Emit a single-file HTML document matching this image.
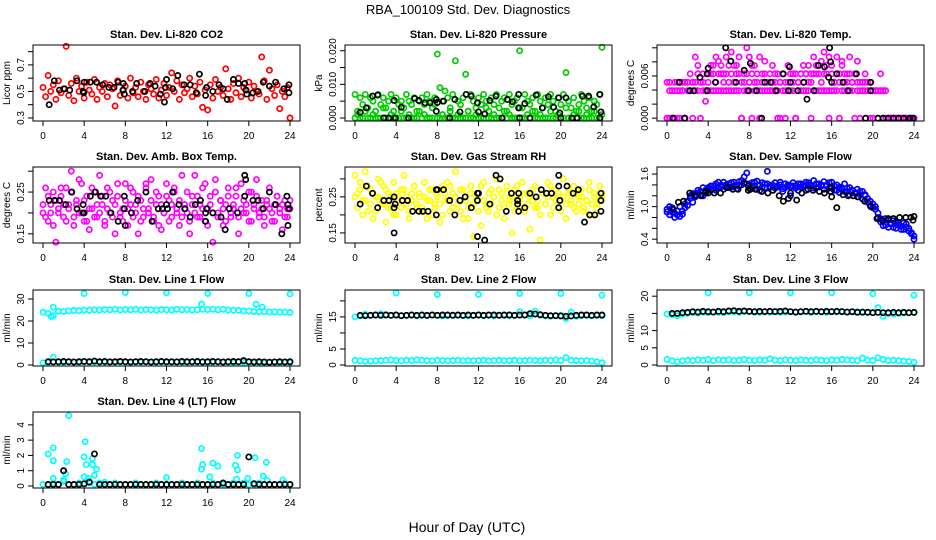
<!DOCTYPE html>
<html><head><meta charset="utf-8">
<style>
html,body{margin:0;padding:0;background:#fff;}
svg{display:block;font-family:"Liberation Sans",Arial,sans-serif;}
</style></head>
<body>
<svg id="chart" width="936" height="540" viewBox="0 0 936 540" xmlns="http://www.w3.org/2000/svg">
<text x="468" y="14" text-anchor="middle" font-size="13">RBA_100109  Std. Dev. Diagnostics</text>
<text x="467" y="532" text-anchor="middle" font-size="14">Hour of Day (UTC)</text>
</svg>
<script>
// ---------- data (hour-of-day series; evenly spaced samples) ----------
const hourTicks = [0,4,8,12,16,20,24];
const co2Red = [0.53,0.46,0.62,0.50,0.55,0.44,0.58,0.49,0.52,0.84,0.47,0.56,0.43,0.60,0.50,0.54,0.45,0.57,0.51,0.48,0.59,0.44,0.53,0.50,0.56,0.46,0.55,0.52,0.39,0.58,0.47,0.51,0.54,0.45,0.60,0.49,0.53,0.46,0.57,0.50,0.44,0.55,0.52,0.48,0.59,0.45,0.51,0.56,0.47,0.53,0.64,0.50,0.58,0.44,0.55,0.49,0.52,0.60,0.46,0.54,0.48,0.57,0.38,0.51,0.36,0.55,0.45,0.59,0.50,0.53,0.47,0.67,0.52,0.44,0.56,0.49,0.60,0.46,0.53,0.51,0.57,0.45,0.54,0.50,0.48,0.76,0.58,0.44,0.66,0.52,0.47,0.55,0.37,0.50,0.46,0.53,0.30];
const co2BlackX = [0.6,1.1,1.6,2.1,2.6,3.3,3.9,3.95,4.0,4.6,5.2,5.8,6.4,6.9,7.3,7.8,7.8,7.9,8.7,9.1,9.9,10.4,10.9,11.4,11.8,11.9,12.0,12.6,13.1,13.7,14.3,14.9,15.2,15.8,15.9,16.5,17.1,17.5,17.9,18.5,19.0,19.6,19.7,19.8,20.4,20.9,21.4,22.0,22.6,23.4,23.9,23.9];
const co2BlackY = [0.40,0.58,0.51,0.52,0.51,0.58,0.50,0.49,0.57,0.57,0.57,0.55,0.53,0.53,0.57,0.56,0.51,0.48,0.50,0.56,0.50,0.56,0.54,0.48,0.42,0.53,0.59,0.52,0.62,0.55,0.55,0.49,0.63,0.47,0.53,0.50,0.55,0.52,0.44,0.59,0.56,0.56,0.51,0.48,0.49,0.50,0.57,0.54,0.57,0.52,0.55,0.49];

const pressGreenA = [0.007,0.002,0.006,0.004,0.007,0.003,0.006,0.005,0.002,0.007,0.004,0.006,0.003,0.005,0.007,0.002,0.006,0.004,0.005,0.003,0.007,0.005,0.004,0.006,0.002,0.005,0.006,0.004,0.007,0.005,0.003,0.006,0.019,0.009,0.005,0.008,0.006,0.003,0.007,0.017,0.005,0.004,0.006,0.013,0.002,0.007,0.005,0.003,0.006,0.004,0.007,0.005,0.002,0.006,0.004,0.007,0.003,0.005,0.006,0.002,0.007,0.004,0.005,0.006,0.020,0.003,0.007,0.005,0.004,0.006,0.002,0.007,0.005,0.003,0.006,0.004,0.007,0.005,0.002,0.006,0.004,0.007,0.0135,0.005,0.003,0.006,0.002,0.004,0.007,0.005,0.003,0.006,0.002,0.005,0.004,0.007,0.021];
const pressGreenB = [0,0.001,0,0,0.002,0,0,0.001,0,0,0,0.003,0,0,0.001,0,0,0,0.002,0,0,0.001,0,0,0,0.002,0,0.001,0,0,0,0.004,0,0,0.001,0,0,0.002,0,0,0.001,0,0,0,0.002,0,0,0.001,0,0,0,0.003,0,0,0.001,0,0,0,0.002,0,0.001,0,0,0,0.003,0,0,0.001,0,0.002,0,0,0.001,0,0,0,0.002,0,0,0.001,0,0,0.003,0,0,0.001,0,0.002,0,0,0.001,0,0,0.002,0,0,0.001];
const pressBlackX = [0.5,1.1,1.7,2.2,2.8,3.3,3.8,3.9,4.5,5.2,5.8,6.2,6.8,7.3,7.9,7.9,8.0,8.6,9.2,9.7,10.2,10.8,11.3,11.9,12.0,12.6,13.1,13.7,14.3,14.8,15.3,15.9,15.9,16.0,16.5,17.0,17.6,18.2,18.8,19.3,19.8,19.9,20.0,20.5,21.1,21.6,22.1,22.7,23.2,23.8,23.9,23.8];
const pressBlackY = [0.0017,0.003,0.0065,0.0068,0,0,0.0052,0,0.0032,0,0.0058,0.0052,0.0045,0.0045,0.0055,0.002,0.0046,0.005,0,0.0055,0.0018,0.007,0.0065,0.0045,0.0018,0.0012,0.0052,0.0065,0,0.0055,0.0048,0.007,0.003,0,0.0043,0,0.0068,0.003,0.0063,0.0032,0.006,0.0015,0,0.006,0,0,0.0065,0.0065,0.0033,0.007,0.0018,0];

const tempMagA = [0,0.0039,0,0.0039,0.0039,0,0.0039,0,0.0039,0.0039,0,0.0039,0.0039,0,0.0039,0.0039,0.0039,0.0039,0.0039,0.0039,0.0039,0.0039,0.0039,0.0039,0.0039,0.0039,0.0039,0.0039,0.0039,0,0.0039,0.0039,0.0039,0,0.0039,0.0039,0.0039,0.0039,0.0039,0.0039,0.0039,0.0039,0.0039,0.0039,0,0.0039,0.0039,0.0039,0.0039,0.0039,0,0.0039,0.0039,0.0039,0.0039,0.0039,0,0.0039,0.0039,0.0039,0.0039,0.0039,0.0039,0.0039,0.0039,0.0039,0.0039,0,0.0039,0.0039,0.0039,0.0039,0.0039,0,0.0039,0.0039,0.0039,0.0039,0.0039,0.0039,0.0039,0.0039,0.0039,0.0039,0.0039,0,0,0,0,0,0,0,0,0,0,0,0];
const tempMagB = [0,0.0051,0,0,0.0051,0.0051,0.0039,0.0051,0.0051,0.0063,0.0051,0.0087,0.0075,0.0051,0.0063,0.0024,0.0063,0.0075,0.0063,0.0087,0.0081,0.0075,0.0063,0.0087,0.0051,0.0094,0.0075,0.0063,0.0087,0.0051,0.0063,0.0100,0.0087,0.0063,0.0075,0.0051,0.0087,0.0063,0.0081,0.0051,0.0063,0.0075,0.0051,0.0063,0.0051,0.0063,0.0051,0.0075,0.0063,0.0051,0.0063,0.0051,0.0063,0.0075,0.0063,0.0051,0.0063,0.0087,0.0063,0.0075,0.0081,0.0094,0.0063,0.0087,0.0075,0.0051,0.0087,0.0063,0.0081,0.0051,0.0063,0.0087,0.0051,0.0063,0.0081,0.0051,0.0051,0.0063,0.0051,0.0051,0,0.0039,0.0039,0.0063,0.0039,0,0,0,0,0,0,0,0,0,0,0,0];
const tempMagC = [0.0051,0,0.0039,0.0051,0,0.0039,0.0051,0,0.0051,0.0039,0.0051,0.0051,0.0063,0.0051,0.0051,0.0039,0.0051,0.0063,0.0075,0.0051,0.0063,0.0063,0.0051,0.0063,0.0075,0.0063,0.0051,0.0075,0.0063,0,0.0051,0.0063,0.0051,0.0075,0.0051,0.0063,0,0.0051,0.0063,0.0051,0.0039,0.0051,0.0063,0,0.0051,0.0063,0,0.0051,0.0051,0.0063,0,0.0051,0.0063,0.0051,0.0063,0.0075,0.0051,0.0063,0.0075,0.0063,0.0051,0.0063,0.0075,0,0.0063,0.0051,0.0063,0.0051,0.0075,0.0063,0.0051,0.0063,0.0051,0.0063,0.0051,0,0.0039,0.0051,0.0039,0,0.0039,0.0039,0,0.0039,0,0.0039,0,0,0,0,0,0,0,0,0,0,0];
const tempBlackX = [0.6,1.2,1.7,2.2,2.6,3.2,3.9,3.9,4.0,4.7,5.7,6.2,6.7,7.5,7.9,8.1,8.7,9.2,9.5,10.1,10.6,11.3,11.9,12.0,11.8,12.7,13.3,13.6,14.3,14.7,15.3,15.8,15.9,15.7,16.0,16.5,17.1,17.6,18.4,19.3,19.8,19.8,20.5,21,21.5,22,22.5,23,23.6,23.9];
const tempBlackY = [0,0.0051,0,0.0039,0.0039,0.0058,0.0039,0.0063,0.0071,0.0051,0.0100,0.0081,0.0051,0.0068,0.0039,0.0078,0.0039,0,0.0051,0.0051,0.0039,0.0063,0.0073,0.0051,0.0039,0.0039,0.0051,0.0027,0.0039,0.0075,0.0073,0.0100,0.0080,0.0058,0.0051,0.0063,0.0051,0.0039,0.0063,0,0.0051,0.0039,0,0,0,0,0,0,0,0];

const ambMagA = [0.20,0.26,0.18,0.22,0.25,0.13,0.21,0.24,0.19,0.26,0.22,0.30,0.17,0.23,0.20,0.27,0.18,0.24,0.16,0.21,0.25,0.19,0.29,0.22,0.18,0.26,0.20,0.23,0.15,0.24,0.19,0.21,0.27,0.17,0.22,0.25,0.20,0.15,0.23,0.19,0.26,0.21,0.28,0.18,0.22,0.24,0.16,0.20,0.27,0.23,0.19,0.25,0.21,0.17,0.29,0.22,0.20,0.15,0.24,0.29,0.19,0.22,0.26,0.18,0.21,0.24,0.13,0.28,0.20,0.23,0.17,0.22,0.26,0.19,0.21,0.24,0.15,0.27,0.20,0.22,0.18,0.25,0.21,0.28,0.19,0.23,0.17,0.22,0.26,0.20,0.18,0.24,0.21,0.16,0.23,0.19,0.21];
const ambMagB = [0.22,0.19,0.24,0.20,0.17,0.23,0.20,0.26,0.22,0.18,0.21,0.25,0.19,0.22,0.28,0.20,0.23,0.18,0.21,0.26,0.19,0.22,0.20,0.24,0.17,0.21,0.25,0.19,0.22,0.27,0.20,0.18,0.23,0.21,0.26,0.19,0.22,0.24,0.18,0.21,0.27,0.20,0.23,0.19,0.25,0.17,0.22,0.20,0.24,0.18,0.22,0.26,0.20,0.23,0.19,0.21,0.25,0.18,0.22,0.20,0.24,0.19,0.21,0.27,0.17,0.22,0.20,0.25,0.19,0.23,0.21,0.18,0.24,0.20,0.22,0.26,0.19,0.21,0.23,0.20,0.25,0.18,0.22,0.24,0.20,0.21,0.19,0.23,0.21,0.18,0.22,0.24,0.20,0.22,0.19,0.21,0.23];
const ambBlackX = [0.6,1.1,1.6,2.2,2.8,3.3,3.9,3.9,4.0,4.6,5.1,5.6,6.1,6.6,7.3,7.9,7.9,8.0,8.6,9.2,10.0,10.6,11.2,11.6,12.0,12.1,12.6,13.2,13.8,14.3,14.8,15.3,15.9,15.8,15.8,16.5,17.3,17.7,18.1,18.9,19.6,19.7,19.6,20.4,20.9,21.4,22.0,22.6,23.2,23.7,23.8,23.9,23.8];
const ambBlackY = [0.23,0.23,0.23,0.22,0.25,0.21,0.22,0.20,0.20,0.24,0.25,0.24,0.24,0.20,0.18,0.24,0.21,0.17,0.20,0.23,0.25,0.18,0.21,0.21,0.22,0.21,0.25,0.22,0.21,0.19,0.22,0.23,0.21,0.20,0.18,0.20,0.19,0.16,0.21,0.20,0.29,0.28,0.24,0.23,0.23,0.21,0.25,0.22,0.15,0.24,0.17,0.21,0.22];

const rhYelA = [0.31,0.26,0.29,0.24,0.32,0.21,0.27,0.19,0.25,0.30,0.23,0.28,0.18,0.26,0.22,0.29,0.20,0.25,0.27,0.31,0.23,0.19,0.26,0.28,0.22,0.25,0.21,0.29,0.24,0.27,0.20,0.23,0.26,0.18,0.28,0.24,0.29,0.21,0.26,0.32,0.23,0.27,0.19,0.25,0.22,0.28,0.14,0.24,0.26,0.17,0.29,0.23,0.21,0.27,0.25,0.30,0.22,0.26,0.19,0.28,0.24,0.15,0.27,0.22,0.25,0.29,0.21,0.26,0.16,0.24,0.28,0.22,0.13,0.26,0.23,0.29,0.20,0.25,0.27,0.22,0.24,0.30,0.19,0.26,0.23,0.28,0.21,0.25,0.27,0.22,0.24,0.29,0.20,0.26,0.23,0.28,0.25];
const rhYelB = [0.25,0.22,0.27,0.20,0.24,0.28,0.23,0.26,0.21,0.25,0.29,0.23,0.27,0.22,0.25,0.20,0.26,0.24,0.22,0.27,0.25,0.21,0.24,0.28,0.23,0.26,0.22,0.25,0.19,0.24,0.27,0.22,0.25,0.23,0.20,0.26,0.24,0.28,0.22,0.25,0.23,0.21,0.27,0.24,0.19,0.26,0.23,0.25,0.21,0.28,0.24,0.22,0.26,0.23,0.25,0.20,0.27,0.24,0.22,0.26,0.23,0.25,0.21,0.28,0.24,0.22,0.26,0.23,0.25,0.27,0.22,0.24,0.20,0.26,0.23,0.25,0.28,0.22,0.24,0.26,0.21,0.25,0.23,0.27,0.24,0.22,0.26,0.23,0.25,0.21,0.24,0.27,0.23,0.25,0.22,0.24,0.26];
const rhBlackX = [0.5,1.1,1.7,2.2,2.8,3.3,3.8,3.8,3.9,3.8,4.6,5.1,5.6,6.2,6.6,7.1,7.9,7.9,8.0,8.6,9.2,9.7,10.2,10.7,11.3,11.9,11.9,12.0,11.9,12.6,13.1,13.7,14.1,14.7,15.2,15.8,15.8,15.9,15.9,16.5,17.0,17.6,18.1,18.6,19.1,19.8,19.8,19.9,19.8,20.6,21.2,21.7,22.3,22.8,23.3,23.9,23.9,23.9];
const rhBlackY = [0.23,0.28,0.26,0.22,0.24,0.24,0.25,0.22,0.23,0.15,0.24,0.24,0.21,0.21,0.21,0.21,0.20,0.27,0.27,0.27,0.24,0.20,0.24,0.25,0.22,0.24,0.26,0.26,0.14,0.13,0.23,0.31,0.30,0.21,0.26,0.24,0.23,0.26,0.21,0.22,0.26,0.25,0.27,0.26,0.26,0.31,0.28,0.24,0.22,0.28,0.26,0.27,0.18,0.20,0.20,0.26,0.24,0.21];

const flowBlueA = [0.95,1.00,0.90,0.88,0.85,0.82,0.92,1.05,1.10,1.15,1.08,1.22,1.25,1.28,1.20,1.30,1.35,1.30,1.38,1.42,1.35,1.40,1.45,1.38,1.42,1.36,1.45,1.40,1.38,1.48,1.44,1.62,1.40,1.36,1.45,1.32,1.40,1.44,1.35,1.42,1.38,1.30,1.44,1.36,1.40,1.33,1.42,1.38,1.36,1.44,1.38,1.30,1.42,1.36,1.45,1.40,1.38,1.48,1.35,1.42,1.38,1.46,1.40,1.34,1.45,1.38,1.30,1.36,1.32,1.42,1.28,1.35,1.30,1.25,1.32,1.22,1.28,1.20,1.15,1.10,1.05,0.95,0.88,0.78,0.72,0.66,0.75,0.70,0.62,0.72,0.66,0.58,0.70,0.62,0.55,0.50,0.40];
const flowBlueB = [0.90,0.85,0.98,0.80,0.92,1.00,0.86,0.98,1.02,1.20,1.24,1.18,1.30,1.22,1.35,1.25,1.32,1.38,1.33,1.30,1.45,1.36,1.32,1.40,1.35,1.44,1.38,1.33,1.46,1.40,1.55,1.42,1.34,1.44,1.38,1.47,1.30,1.36,1.42,1.65,1.36,1.40,1.34,1.38,1.45,1.28,1.35,1.40,1.20,1.38,1.34,1.42,1.36,1.40,1.30,1.44,1.38,1.34,1.42,1.36,1.40,1.32,1.38,1.44,1.36,1.30,1.40,1.26,1.35,1.28,1.34,1.22,1.30,1.26,1.18,1.28,1.14,1.22,1.08,1.02,0.98,1.00,0.80,0.72,0.65,0.78,0.62,0.68,0.74,0.60,0.70,0.64,0.58,0.68,0.60,0.52,0.46];
const flowBlackX = [0.6,1.1,1.6,2.2,2.8,3.3,3.8,4.0,4.6,5.2,5.8,6.4,6.9,7.5,7.9,7.9,8.1,8.6,9.2,9.8,10.3,10.9,11.3,11.8,12.0,12.6,13.1,13.7,14.2,14.8,15.3,15.9,15.9,16.0,16.5,17.1,17.6,18.1,18.6,19.2,19.8,20.4,20.9,21.5,22.0,22.6,23.2,23.7,23.9,24.0];
const flowBlackY = [0.95,1.08,1.1,1.25,1.2,1.2,1.28,1.25,1.25,1.25,1.35,1.32,1.32,1.43,1.38,1.3,1.32,1.32,1.28,1.25,1.3,1.2,1.1,1.15,1.25,1.12,1.25,1.32,1.3,1.28,1.25,1.35,1.28,1.18,0.98,1.22,1.2,1.2,1.18,1.1,1.0,0.78,0.75,0.78,0.78,0.8,0.8,0.8,0.75,0.82];

const line1CyanHi = [24.0,23.5,22.5,24.5,24.3,24.6,24.8,24.7,25.0,24.9,25.1,25.0,25.2,25.1,25.3,25.0,25.2,25.1,25.3,25.0,25.2,25.1,25.0,25.2,25.1,25.0,25.3,25.1,25.2,25.0,25.1,25.3,25.2,25.4,25.1,25.3,25.0,24.9,24.8,24.6,24.5,24.3,24.2,24.3,24.1,24.2,24.0,24.1,23.9];
const line1CyanLo = [1.0,1.2,3.5,1.3,1.2,1.4,1.3,1.2,1.5,1.3,1.4,1.2,1.3,1.5,1.2,1.4,1.3,1.2,1.4,1.3,1.5,1.2,1.3,1.4,1.2,1.3,1.5,1.3,1.2,1.4,1.3,1.5,1.2,1.3,1.4,1.2,1.3,1.0,1.4,1.2,1.3,1.1,1.2,0.8,1.1,1.3,1.0,1.2,1.1];
const line1OutX = [4,8,12,16,20,24,1,0.8,15.4,20.7,21.3];
const line1OutY = [32.5,33,32.8,32.5,32.5,32.3,26.3,22,27.7,27.6,26.3];
const line1Black = [1.5,1.4,1.5,1.6,1.5,1.4,1.5,1.6,1.5,1.8,1.5,1.6,1.4,1.5,1.6,1.5,1.4,1.5,1.6,1.5,1.4,1.5,1.6,1.5,1.5,1.4,1.6,1.5,1.5,1.6,1.4,1.5,1.6,1.5,1.4,1.5,1.6,1.5,2.0,1.5,1.4,1.5,1.4,1.3,1.4,1.5,1.4,1.5];

const line2CyanHi = [15.0,15.3,15.8,15.5,15.6,16.0,15.7,15.5,15.6,15.4,15.5,15.6,15.3,15.5,15.4,15.6,15.5,15.3,15.4,15.6,15.5,15.4,15.3,15.5,15.6,15.4,15.5,15.3,15.6,15.5,15.4,15.5,16.6,15.6,15.3,16.8,15.5,15.4,15.2,15.4,15.5,14.5,16.5,15.2,15.4,15.5,15.3,15.5,15.4];
const line2CyanLo = [1.5,1.3,1.1,1.2,1.3,1.4,1.5,1.6,1.4,1.3,1.5,1.4,1.6,1.5,1.4,1.3,1.5,1.4,1.3,1.4,1.5,1.3,1.4,1.3,1.4,1.5,1.3,1.4,1.5,1.3,1.4,1.5,1.3,1.4,1.5,1.4,1.3,1.5,1.4,1.6,1.4,2.3,1.5,1.4,1.3,1.4,1.2,1.0,0.7];
const line2OutX = [4,8,12,16,20,24];
const line2OutY = [22.5,22.0,22.0,22.3,22.3,21.8];
const line2Black = [15.5,15.4,15.5,15.6,15.5,15.6,15.5,15.6,15.4,15.5,15.6,15.5,15.6,15.5,15.6,15.5,15.6,15.6,15.5,15.6,15.5,15.6,15.5,15.6,15.5,15.6,15.6,15.5,15.6,15.6,15.5,15.6,15.6,16.0,15.9,15.7,15.5,15.4,15.4,15.3,15.2,15.3,15.5,15.6,15.6,15.5,15.6,15.6];

const line3CyanHi = [14.8,14.6,14.3,14.8,15.0,15.2,15.1,15.3,15.2,15.4,15.3,15.2,15.5,15.4,15.3,15.6,15.5,15.4,15.3,15.5,15.4,15.6,15.3,15.4,15.5,15.3,15.4,15.6,15.3,15.5,15.4,15.3,15.5,15.4,15.6,15.3,15.4,15.5,15.2,15.4,15.3,16.7,14.2,15.0,14.8,15.0,15.1,15.2,15.2];
const line3CyanLo = [1.6,1.2,0.9,1.2,1.4,1.3,1.5,1.4,1.6,1.3,1.5,1.4,1.5,1.3,1.4,1.6,1.4,1.3,1.5,1.4,1.8,1.4,1.3,1.5,1.4,1.3,1.5,1.4,1.3,1.5,1.4,1.3,1.5,1.4,1.6,1.5,1.4,1.3,2.0,1.4,1.3,2.1,1.6,1.3,1.4,1.3,1.1,1.0,0.8];
const line3OutX = [4,8,12,16,20,24];
const line3OutY = [21.0,21.0,21.0,21.0,20.7,20.3];
const line3Black = [15.0,15.0,15.2,15.3,15.5,15.4,15.6,15.5,15.4,15.6,15.5,15.7,15.8,15.6,15.7,15.6,15.5,15.6,15.5,15.6,15.5,15.6,15.7,15.5,15.4,15.5,15.6,15.5,15.6,15.5,15.6,15.5,15.6,15.5,15.4,15.5,15.3,15.4,15.3,15.2,15.3,15.2,15.2,15.3,15.2,15.3,15.2,15.3];

const line4CyanBase = [0.1,0.1,0.2,0.1,0.3,0.1,0.1,0.2,0.1,0.3,0.1,0.2,0.1,0.1,0.2,0.1,0.1,0.1,0.2,0.1,0.1,0.1,0.2,0.1,0.1,0.1,0.1,0.2,0.1,0.1,0.2,0.1,0.1,0.2,0.1,0.1,0.1,0.2,0.1,0.2,0.1,0.1,0.2,0.1,0.1,0.1,0.1,0.2,0.1];
const line4OutX = [0.5,1,1,1,2.5,2.3,2,2.2,4.1,4,4.2,4,4.8,4.8,5,5.2,4.4,12,15.4,15.5,15.4,16.5,17,16.2,18.7,18.9,18.9,18.8,19.9,20.6,21.4,21.7,21.8,23.3,6,9];
const line4OutY = [2.1,2.5,1.65,0.5,4.6,1.6,0.4,0.8,2.9,1.9,1.4,0.6,1.8,1.4,0.7,1.1,0.5,0.55,2.45,1.4,1.1,1.5,1.3,0.6,1.35,2.0,1.05,0.45,0.5,1.85,0.65,1.55,0.35,0.4,0.25,0.2];
const line4Black = [0.1,0.1,0.1,1.0,0.1,0.1,0.1,0.15,0.25,2.1,0.1,0.1,0.1,0.1,0.1,0.1,0.1,0.1,0.1,0.1,0.1,0.1,0.1,0.1,0.1,0.1,0.1,0.1,0.1,0.1,0.1,0.1,0.1,0.1,0.2,0.1,0.1,0.1,0.1,1.9,0.15,0.1,0.1,0.1,0.1,0.1,0.1,0.1];

// ---------- rendering ----------
const NS = "http://www.w3.org/2000/svg";
const svg = document.getElementById('chart');
const COLX = [33,345,657], ROWY = [45,167,290,412], PW = 267, PH = 76;

function spread(vals, t0, t1) {
  const n = vals.length; return vals.map((v,i)=> t0 + (t1-t0)*i/(n-1));
}
function mk(tag, attrs, parent) {
  const e = document.createElementNS(NS, tag);
  for (const k in attrs) e.setAttribute(k, attrs[k]);
  (parent||svg).appendChild(e); return e;
}

const panels = [
 {name:'co2', title:'Stan. Dev. Li-820 CO2', yl:'Licor ppm', col:0,row:0, ylim:[0.277,0.85], ticks:[0.3,0.4,0.5,0.6,0.7,0.8], labels:{0.3:'0.3',0.5:'0.5',0.7:'0.7'},
  series:[{c:'#ff0000', y:co2Red}], bx:co2BlackX, by:co2BlackY},
 {name:'pressure', title:'Stan. Dev. Li-820 Pressure', yl:'kPa', col:1,row:0, ylim:[-0.0009,0.0217], ticks:[0,0.005,0.01,0.015,0.02], labels:{0:'0.000',0.01:'0.010',0.02:'0.020'},
  series:[{c:'#00cc00', y:pressGreenB},{c:'#00cc00', y:pressGreenA}], bx:pressBlackX, by:pressBlackY},
 {name:'temp', title:'Stan. Dev. Li-820 Temp.', yl:'degrees C', col:2,row:0, ylim:[-0.0004,0.0104], ticks:[0,0.002,0.004,0.006,0.008,0.01], labels:{0:'0.000',0.006:'0.006'},
  series:[{c:'#ff00ff', y:tempMagA},{c:'#ff00ff', y:tempMagB},{c:'#ff00ff', y:tempMagC}], bx:tempBlackX, by:tempBlackY},
 {name:'amb-box-temp', title:'Stan. Dev. Amb. Box Temp.', yl:'degrees C', col:0,row:1, ylim:[0.128,0.31], ticks:[0.15,0.2,0.25,0.3], labels:{0.15:'0.15',0.25:'0.25'},
  series:[{c:'#ff00ff', y:ambMagA},{c:'#ff00ff', y:ambMagB}], bx:ambBlackX, by:ambBlackY},
 {name:'gas-stream-rh', title:'Stan. Dev. Gas Stream RH', yl:'percent', col:1,row:1, ylim:[0.122,0.333], ticks:[0.15,0.2,0.25,0.3], labels:{0.15:'0.15',0.25:'0.25'},
  series:[{c:'#ffff00', y:rhYelA},{c:'#ffff00', y:rhYelB}], bx:rhBlackX, by:rhBlackY},
 {name:'sample-flow', title:'Stan. Dev. Sample Flow', yl:'ml/min', col:2,row:1, ylim:[0.33,1.73], ticks:[0.4,0.6,0.8,1.0,1.2,1.4,1.6], labels:{0.4:'0.4',1:'1.0',1.6:'1.6'},
  series:[{c:'#0000ff', y:flowBlueA},{c:'#0000ff', y:flowBlueB}], bx:flowBlackX, by:flowBlackY},
 {name:'line1-flow', title:'Stan. Dev. Line 1 Flow', yl:'ml/min', col:0,row:2, ylim:[-0.45,34.1], ticks:[0,10,20,30], labels:{0:'0',10:'10',20:'20',30:'30'},
  series:[{c:'#00ffff', y:line1CyanHi},{c:'#00ffff', y:line1CyanLo}], ox:line1OutX, oy:line1OutY, bl:line1Black},
 {name:'line2-flow', title:'Stan. Dev. Line 2 Flow', yl:'ml/min', col:1,row:2, ylim:[-0.31,23.4], ticks:[0,5,10,15,20], labels:{0:'0',5:'5',15:'15'},
  series:[{c:'#00ffff', y:line2CyanHi},{c:'#00ffff', y:line2CyanLo}], ox:line2OutX, oy:line2OutY, bl:line2Black},
 {name:'line3-flow', title:'Stan. Dev. Line 3 Flow', yl:'ml/min', col:2,row:2, ylim:[-0.29,21.8], ticks:[0,5,10,15,20], labels:{0:'0',5:'5',10:'10',20:'20'},
  series:[{c:'#00ffff', y:line3CyanHi},{c:'#00ffff', y:line3CyanLo}], ox:line3OutX, oy:line3OutY, bl:line3Black},
 {name:'line4-lt-flow', title:'Stan. Dev. Line 4 (LT) Flow', yl:'ml/min', col:0,row:3, ylim:[-0.13,4.84], ticks:[0,1,2,3,4], labels:{0:'0',1:'1',2:'2',3:'3',4:'4'},
  series:[{c:'#00ffff', y:line4CyanBase}], ox:line4OutX, oy:line4OutY, bl:line4Black}
];

function dot(g, x, y, color) {
  const c = mk('circle', {cx:x.toFixed(2), cy:y.toFixed(2), r:2.6, fill:'none', stroke:color, 'stroke-width':1.7}, g);
  
  
}

panels.forEach(p => {
  const L = COLX[p.col], T = ROWY[p.row], B = T + PH, R = L + PW;
  const xs = h => L + 10 + h * (247/24);
  const ys = v => B - (v - p.ylim[0]) / (p.ylim[1] - p.ylim[0]) * PH;
  const g = mk('g', {});
  
  
  const t = mk('text', {x:(L+R)/2, y:T-7, 'text-anchor':'middle', 'font-size':11, 'font-weight':'bold'}, g);
  t.textContent = p.title;
  
  
  const yt = mk('text', {x:0, y:0, 'text-anchor':'middle', 'font-size':10, transform:`translate(${L-23},${(T+B)/2}) rotate(-90)`}, g);
  yt.textContent = p.yl;
  
  
  const xa = mk('g', {}, g);
  
  
  mk('line', {x1:xs(hourTicks[0]), x2:xs(hourTicks[hourTicks.length-1]), y1:B, y2:B, stroke:'#000'}, xa);
  hourTicks.forEach(h => {
    mk('line', {x1:xs(h), x2:xs(h), y1:B, y2:B+5, stroke:'#000'}, xa);
    const lt = mk('text', {x:xs(h), y:B+18, 'text-anchor':'middle', 'font-size':10}, xa);
    lt.textContent = String(h);
    
    
  });
  const ya = mk('g', {}, g);
  
  
  p.ticks.forEach(v => {
    mk('line', {x1:L-5, x2:L, y1:ys(v), y2:ys(v), stroke:'#000'}, ya);
    const key = Object.keys(p.labels).find(k => Math.abs(parseFloat(k)-v) < 1e-9);
    if (key !== undefined) {
      const lt = mk('text', {x:0, y:0, 'text-anchor':'middle', 'font-size':10, transform:`translate(${L-9},${ys(v)}) rotate(-90)`}, ya);
      lt.textContent = p.labels[key];
      
      
    }
  });
  p.series.forEach(s => {
    const hs = spread(s.y, 0, 24);
    s.y.forEach((v,i) => dot(g, xs(hs[i]), ys(v), s.c));
  });
  if (p.ox) p.ox.forEach((h,i) => dot(g, xs(h), ys(p.oy[i]), '#00ffff'));
  if (p.bx) p.bx.forEach((h,i) => dot(g, xs(h), ys(p.by[i]), '#000'));
  if (p.bl) { const hs = spread(p.bl, 0.5, 24); p.bl.forEach((v,i) => dot(g, xs(hs[i]), ys(v), '#000')); }
  const box = mk('rect', {x:L, y:T, width:PW, height:PH, fill:'none', stroke:'#000', 'stroke-width':1}, g);
  
  
});
</script>
</body></html>
